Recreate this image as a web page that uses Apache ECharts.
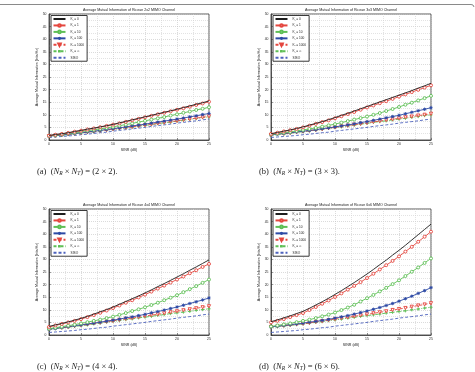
<!DOCTYPE html>
<html>
<head>
<meta charset="utf-8">
<script src="https://cdn.jsdelivr.net/npm/echarts@6/dist/echarts.min.js"></script>
<style>
html, body { margin: 0; padding: 0; background: #fff; }
#chart { width: 475px; height: 372px; }
</style>
</head>
<body>
<div id="chart"></div>
<script>
const snr = [0, 1, 2, 3, 4, 5, 6, 7, 8, 9, 10, 11, 12, 13, 14, 15, 16, 17, 18, 19, 20, 21, 22, 23, 24, 25];

const seriesNames = ["K_r = 0", "K_r = 1", "K_r = 10", "K_r = 100", "K_r = 1000", "K_r = \u221e", "SISO"];

// (a) 2x2
const a_k0 = [1.8, 2.2, 2.5, 2.9, 3.4, 3.8, 4.3, 4.7, 5.2, 5.7, 6.2, 6.8, 7.4, 8.0, 8.6, 9.2, 9.8, 10.4, 11.0, 11.6, 12.2, 12.9, 13.5, 14.2, 14.8, 15.5];
const a_k1 = [1.7, 2.1, 2.4, 2.8, 3.3, 3.7, 4.2, 4.6, 5.1, 5.6, 6.1, 6.6, 7.2, 7.8, 8.4, 9.0, 9.6, 10.2, 10.8, 11.4, 12.0, 12.6, 13.2, 13.9, 14.5, 15.2];
const a_k10 = [1.6, 1.9, 2.2, 2.6, 2.9, 3.3, 3.7, 4.0, 4.4, 4.8, 5.2, 5.7, 6.1, 6.6, 7.1, 7.6, 8.1, 8.6, 9.1, 9.7, 10.2, 10.8, 11.3, 11.9, 12.4, 13.0];
const a_k100 = [1.5, 1.8, 2.0, 2.3, 2.6, 2.9, 3.2, 3.5, 3.8, 4.2, 4.5, 4.8, 5.2, 5.6, 5.9, 6.3, 6.7, 7.1, 7.5, 7.9, 8.3, 8.7, 9.2, 9.6, 10.1, 10.5];
const a_k1000 = [1.5, 1.7, 2.0, 2.3, 2.5, 2.8, 3.1, 3.4, 3.7, 4.0, 4.3, 4.6, 4.9, 5.2, 5.6, 5.9, 6.2, 6.6, 6.9, 7.3, 7.6, 8.0, 8.3, 8.7, 9.0, 9.4];
const a_kinf = [1.4, 1.7, 1.9, 2.2, 2.5, 2.8, 3.0, 3.3, 3.6, 3.9, 4.2, 4.5, 4.8, 5.1, 5.5, 5.8, 6.1, 6.5, 6.8, 7.1, 7.5, 7.8, 8.2, 8.5, 8.9, 9.2];

// (b) 3x3
const b_k0 = [2.5, 3.0, 3.5, 4.0, 4.6, 5.2, 5.9, 6.6, 7.3, 8.1, 8.9, 9.8, 10.6, 11.5, 12.4, 13.3, 14.2, 15.1, 16.0, 16.9, 17.8, 18.7, 19.6, 20.6, 21.5, 22.5];
const b_k1 = [2.4, 2.9, 3.4, 3.9, 4.4, 5.0, 5.7, 6.4, 7.1, 7.8, 8.6, 9.4, 10.3, 11.1, 12.0, 12.9, 13.7, 14.6, 15.4, 16.3, 17.2, 18.1, 19.0, 19.9, 20.8, 21.7];
const b_k10 = [2.2, 2.5, 2.9, 3.2, 3.6, 4.0, 4.4, 4.8, 5.3, 5.8, 6.3, 6.9, 7.5, 8.1, 8.7, 9.3, 10.0, 10.7, 11.5, 12.3, 13.1, 14.0, 14.8, 15.7, 16.6, 17.5];
const b_k100 = [2.0, 2.3, 2.6, 2.9, 3.2, 3.5, 3.8, 4.1, 4.5, 4.8, 5.2, 5.6, 6.0, 6.4, 6.9, 7.3, 7.8, 8.3, 8.8, 9.3, 9.8, 10.4, 11.0, 11.6, 12.2, 12.8];
const b_k1000 = [2.0, 2.3, 2.5, 2.8, 3.1, 3.4, 3.7, 4.0, 4.3, 4.7, 5.0, 5.4, 5.7, 6.1, 6.4, 6.8, 7.2, 7.5, 7.9, 8.2, 8.6, 9.0, 9.3, 9.7, 10.0, 10.4];
const b_kinf = [1.9, 2.2, 2.4, 2.7, 3.0, 3.3, 3.6, 3.9, 4.2, 4.6, 4.9, 5.2, 5.6, 5.9, 6.3, 6.6, 7.0, 7.3, 7.6, 8.0, 8.3, 8.6, 9.0, 9.3, 9.7, 10.0];

// (c) 4x4
const c_k0 = [3.4, 4.0, 4.6, 5.2, 5.9, 6.6, 7.4, 8.3, 9.2, 10.1, 11.1, 12.2, 13.3, 14.4, 15.5, 16.7, 17.9, 19.2, 20.4, 21.7, 23.0, 24.3, 25.7, 27.0, 28.4, 29.8];
const c_k1 = [3.2, 3.8, 4.4, 5.0, 5.6, 6.3, 7.1, 7.9, 8.8, 9.7, 10.7, 11.7, 12.8, 13.8, 14.9, 16.0, 17.2, 18.4, 19.6, 20.8, 22.0, 23.2, 24.5, 25.7, 27.0, 28.2];
const c_k10 = [2.5, 2.9, 3.3, 3.7, 4.1, 4.6, 5.1, 5.6, 6.1, 6.7, 7.3, 8.0, 8.7, 9.5, 10.2, 11.0, 11.9, 12.8, 13.8, 14.8, 15.8, 17.0, 18.2, 19.4, 20.7, 22.0];
const c_k100 = [2.3, 2.6, 3.0, 3.3, 3.7, 4.0, 4.4, 4.7, 5.1, 5.5, 5.9, 6.3, 6.8, 7.2, 7.7, 8.2, 8.8, 9.3, 9.9, 10.5, 11.1, 11.8, 12.5, 13.2, 13.9, 14.7];
const c_k1000 = [2.3, 2.6, 2.9, 3.2, 3.6, 3.9, 4.2, 4.6, 4.9, 5.3, 5.6, 6.0, 6.4, 6.7, 7.1, 7.5, 7.9, 8.2, 8.6, 9.0, 9.4, 9.8, 10.2, 10.6, 11.0, 11.4];
const c_kinf = [2.2, 2.5, 2.8, 3.1, 3.4, 3.7, 4.0, 4.4, 4.7, 5.1, 5.4, 5.7, 6.1, 6.4, 6.8, 7.1, 7.4, 7.8, 8.1, 8.5, 8.8, 9.1, 9.4, 9.8, 10.1, 10.4];

// (d) 6x6
const d_k0 = [5.3, 6.0, 6.8, 7.6, 8.5, 9.4, 10.6, 11.9, 13.2, 14.6, 16.1, 17.6, 19.2, 20.8, 22.5, 24.2, 26.0, 27.9, 29.7, 31.7, 33.6, 35.6, 37.7, 39.8, 41.9, 44.0];
const d_k1 = [5.0, 5.6, 6.3, 7.1, 7.9, 8.7, 9.9, 11.1, 12.4, 13.7, 15.1, 16.5, 18.0, 19.5, 21.0, 22.6, 24.3, 26.0, 27.7, 29.4, 31.2, 33.1, 35.0, 37.0, 39.0, 41.0];
const d_k10 = [3.4, 3.8, 4.2, 4.6, 5.1, 5.6, 6.1, 6.7, 7.4, 8.1, 8.9, 9.9, 10.9, 12.0, 13.3, 14.6, 15.9, 17.3, 18.7, 20.2, 21.7, 23.4, 25.1, 26.8, 28.6, 30.4];
const d_k100 = [3.2, 3.5, 3.8, 4.1, 4.4, 4.7, 5.1, 5.4, 5.8, 6.2, 6.7, 7.2, 7.7, 8.3, 8.9, 9.5, 10.2, 10.9, 11.7, 12.5, 13.4, 14.4, 15.4, 16.5, 17.6, 18.8];
const d_k1000 = [3.2, 3.4, 3.7, 4.0, 4.2, 4.5, 4.8, 5.2, 5.5, 5.9, 6.3, 6.7, 7.0, 7.4, 7.8, 8.2, 8.6, 9.0, 9.4, 9.9, 10.3, 10.7, 11.2, 11.7, 12.1, 12.6];
const d_kinf = [3.1, 3.3, 3.6, 3.8, 4.1, 4.4, 4.7, 5.0, 5.3, 5.7, 6.0, 6.3, 6.7, 7.0, 7.4, 7.7, 8.0, 8.3, 8.7, 9.0, 9.3, 9.6, 10.0, 10.3, 10.7, 11.0];

// SISO reference, same in every panel
const siso = [1.0, 1.2, 1.4, 1.6, 1.8, 2.1, 2.3, 2.6, 2.9, 3.1, 3.5, 3.8, 4.1, 4.4, 4.7, 5.0, 5.4, 5.7, 6.0, 6.3, 6.7, 7.0, 7.3, 7.6, 8.0, 8.3];

const panelData = [
	[a_k0, a_k1, a_k10, a_k100, a_k1000, a_kinf, siso],
	[b_k0, b_k1, b_k10, b_k100, b_k1000, b_kinf, siso],
	[c_k0, c_k1, c_k10, c_k100, c_k1000, c_kinf, siso],
	[d_k0, d_k1, d_k10, d_k100, d_k1000, d_kinf, siso],
];
const panelTitles = [
	"Average Mutual Information of Ricean 2x2 MIMO Channel",
	"Average Mutual Information of Ricean 3x3 MIMO Channel",
	"Average Mutual Information of Ricean 4x4 MIMO Channel",
	"Average Mutual Information of Ricean 6x6 MIMO Channel",
];
const panelLetters = ["a", "b", "c", "d"];
const panelSizes = ["2 \u00d7 2", "3 \u00d7 3", "4 \u00d7 4", "6 \u00d7 6"];

const xTicks = [0, 5, 10, 15, 20, 25];
const yTicks = [0, 5, 10, 15, 20, 25, 30, 35, 40, 45, 50];

// layout
const boxes = [
	{ left: 49, top: 14 },
	{ left: 271, top: 14 },
	{ left: 49, top: 209 },
	{ left: 271, top: 209 },
];
const W = 160;
const H = 126;

const RED = "#e4463e";
const GREEN = "#5ebf55";
const BLUE = "#2c4aa5";
const STAR = "path://M5,0L5,10M0,5L10,5M1.5,1.5L8.5,8.5M8.5,1.5L1.5,8.5";
const PLUS = "path://M5,0L5,10M0,5L10,5";

// hollow markers: white fill + coloured border (MATLAB style)
const styles = [
	{ color: "#1e1e1e", type: "solid", symbol: "none" },
	{ color: RED, type: "solid", symbol: "circle", size: 3 },
	{ color: GREEN, type: "solid", symbol: "circle", size: 3 },
	{ color: BLUE, type: "solid", symbol: STAR, size: 3.4 },
	{ color: RED, type: [3, 2], symbol: "triangle", size: 3.2, rotate: 180 },
	{ color: GREEN, type: [3, 1.5, 1, 1.5], symbol: PLUS, size: 3.2 },
	{ color: "#4d62bd", type: [3, 2], symbol: "none" },
];

const fontTxt = "Liberation Sans";
const grid = [];
const xAxis = [];
const yAxis = [];
const title = [];
const legend = [];
const series = [];
const graphic = [];

const legendData = seriesNames.map((n, i) =>
	styles[i].symbol === "none" ? { name: n, itemStyle: { opacity: 0 } } : { name: n }
);

boxes.forEach((b, p) => {
	grid.push({
		left: b.left,
		top: b.top,
		width: W,
		height: H,
		show: true,
		borderColor: "#333",
		borderWidth: 0.8,
		backgroundColor: "#fff",
	});
	xAxis.push({
		type: "value",
		gridIndex: p,
		min: xTicks[0],
		max: xTicks[xTicks.length - 1],
		interval: 5,
		name: "SINR (dB)",
		nameLocation: "middle",
		nameGap: 8,
		nameTextStyle: { fontSize: 3.6, color: "#222", fontFamily: fontTxt },
		axisLine: { lineStyle: { color: "#333", width: 0.8 } },
		axisTick: { inside: true, length: 2, lineStyle: { color: "#333", width: 0.5 } },
		minorTick: { show: true, splitNumber: 2, length: 1, lineStyle: { color: "#777", width: 0.4 } },
		axisLabel: { fontSize: 3.4, margin: 2.5, color: "#222", fontFamily: fontTxt },
		splitLine: { lineStyle: { color: "#c4c4c4", type: [1, 1], width: 0.6 } },
		minorSplitLine: { show: true, lineStyle: { color: "#d0d0d0", type: [1, 1], width: 0.6 } },
	});
	yAxis.push({
		type: "value",
		gridIndex: p,
		min: yTicks[0],
		max: yTicks[yTicks.length - 1],
		interval: 5,
		name: "Average Mutual Information (bits/Hz)",
		nameLocation: "middle",
		nameGap: 7,
		nameTextStyle: { fontSize: 3.6, color: "#222", fontFamily: fontTxt },
		axisLine: { show: true, lineStyle: { color: "#333", width: 0.8 } },
		axisTick: { show: true, inside: true, length: 2, lineStyle: { color: "#333", width: 0.5 } },
		minorTick: { show: true, splitNumber: 2, length: 1, lineStyle: { color: "#777", width: 0.4 } },
		axisLabel: { fontSize: 3.4, margin: 2.5, color: "#222", fontFamily: fontTxt },
		splitLine: { lineStyle: { color: "#c4c4c4", type: [1, 1], width: 0.6 } },
		minorSplitLine: { show: true, lineStyle: { color: "#d0d0d0", type: [1, 1], width: 0.6 } },
	});
	title.push({
		text: panelTitles[p],
		left: b.left + W / 2,
		top: b.top - 6,
		textAlign: "center",
		textStyle: { fontSize: 3.6, fontWeight: "normal", color: "#222", fontFamily: fontTxt },
		padding: 0,
	});
	legend.push({
		data: legendData,
		orient: "vertical",
		left: b.left + 2,
		top: b.top + 1.5,
		padding: [1.2, 3, 1.2, 1.5],
		itemGap: 1.9,
		itemWidth: 12,
		itemHeight: 3.2,
		backgroundColor: "#fff",
		borderColor: "#222",
		borderWidth: 0.9,
		formatter: (name) =>
			name.startsWith("K_r") ? "{k|K}{s|r}{k|" + name.slice(3) + "}" : "{k|" + name + "}",
		textStyle: {
			fontSize: 3.2,
			color: "#222",
			fontFamily: fontTxt,
			rich: {
				k: { fontSize: 3.2, fontFamily: fontTxt, color: "#222" },
				s: { fontSize: 2.3, fontFamily: fontTxt, color: "#222", padding: [2, 0, 0, 0] },
			},
		},
	});
	panelData[p].forEach((vals, i) => {
		const st = styles[i];
		series.push({
			name: seriesNames[i],
			type: "line",
			xAxisIndex: p,
			yAxisIndex: p,
			data: snr.map((x, j) => [x, vals[j]]),
			symbol: st.symbol,
			symbolSize: st.size || 3,
			symbolRotate: st.rotate || 0,
			showSymbol: st.symbol !== "none",
			animation: false,
			lineStyle: { color: st.color, width: 0.9, type: st.type },
			itemStyle: { color: "#fff", borderColor: st.color, borderWidth: 0.9 },
			z: 10 - i,
		});
	});
	graphic.push({
		type: "text",
		left: b.left - 12,
		top: b.top + H + 27,
		style: {
			text:
				"{r|(" + panelLetters[p] + ")  (}{i|N}{sub|R}{r| \u00d7 }{i|N}{sub|T}{r|) = (" +
				panelSizes[p] + ").}",
			rich: {
				r: { fontFamily: "Liberation Serif", fontSize: 8.5, fill: "#222" },
				i: { fontFamily: "Liberation Serif", fontStyle: "italic", fontSize: 8.5, fill: "#222" },
				sub: { fontFamily: "Liberation Serif", fontStyle: "italic", fontSize: 5.5, fill: "#222", padding: [4, 0, 0, 0] },
			},
		},
	});
});

// page border line across the top
graphic.push({
	type: "polyline",
	shape: { points: [[0, 4.5], [471, 4.5], [473, 5], [474, 7]] },
	style: { stroke: "#8a8a8a", lineWidth: 1, fill: null },
});

const chart = echarts.init(document.getElementById("chart"), null, { renderer: "canvas" });
chart.setOption({
	backgroundColor: "#fff",
	animation: false,
	grid,
	xAxis,
	yAxis,
	title,
	legend,
	series,
	graphic,
});
</script>
</body>
</html>
